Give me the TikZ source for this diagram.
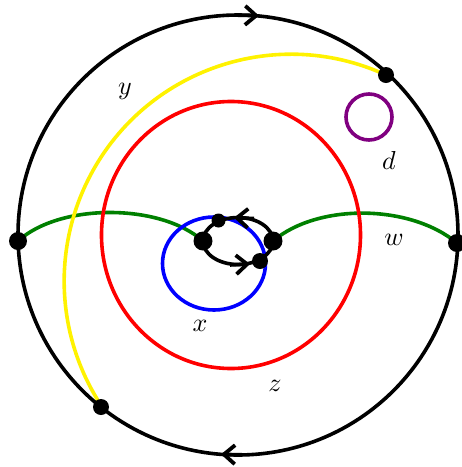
\documentclass[tikz,border=0pt]{standalone}
\usetikzlibrary{arrows.meta}
\definecolor{dgreen}{RGB}{0,128,0}
\definecolor{dpurple}{RGB}{128,0,128}
\begin{document}
\begin{tikzpicture}[x=1pt,y=-1pt, line width=3.6pt,
  dot/.style={circle,fill=black,inner sep=0pt,minimum size=#1},
  barb/.style={-{Straight Barb[length=11pt,width=19pt,line width=3.8pt]}},
  lbl/.style={scale=2.6, inner sep=0pt}]
\useasboundingbox (0,0) rectangle (462,467);
% positions
\coordinate (L) at (18,241);
\coordinate (R) at (457,243);
\coordinate (Y1) at (386,75);
\coordinate (Y2) at (101,407);
\coordinate (B) at (203,241);
\coordinate (A) at (218.5,220.5);
\coordinate (C) at (273,241);
\coordinate (D) at (260,261);
% green
\draw[dgreen] (L) .. controls (60,203) and (160,203) .. (B);
\draw[dgreen] (C) .. controls (318,203) and (410,204) .. (R);
% yellow
\draw[yellow] (Y1) arc[start angle=-65.3, end angle=-213.3, radius=227];
% red, blue, purple
\draw[red] (231,235) ellipse[x radius=129.5, y radius=133.5];
\draw[blue] (214,263.5) ellipse[x radius=51.5, y radius=46.5];
\draw[dpurple] (369,117) circle[radius=23];
% big circle
\draw (238,235) circle[radius=220];
\draw[barb] (238,15.2) -- (259,15.7);
\draw[barb] (242,454.8) -- (221,454.3);
% inner ellipse
\draw (238,241) ellipse[x radius=35, y radius=23.5];
\draw[barb] (254,218.5) -- (234,217.7);
\draw[barb] (230,265) -- (250,264);
% dots on top
\node[dot=18pt] (nL) at (L) {};
\node[dot=18pt] (nR) at (R) {};
\node[dot=16pt] (nY1) at (Y1) {};
\node[dot=16pt] (nY2) at (Y2) {};
\node[dot=19pt] (nB) at (B) {};
\node[dot=14pt] (nA) at (A) {};
\node[dot=19pt] (nC) at (C) {};
\node[dot=16pt] (nD) at (D) {};
% labels
\node[lbl] (ly) at (125,91) {$y$};
\node[lbl] (ld) at (389,160) {$d$};
\node[lbl] (lw) at (394,240) {$w$};
\node[lbl] (lx) at (200,326) {$x$};
\node[lbl] (lz) at (275,386) {$z$};
\end{tikzpicture}
\end{document}
